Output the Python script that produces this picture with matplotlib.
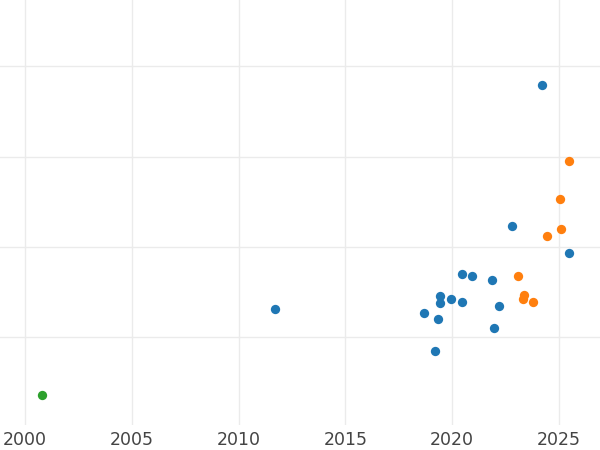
import matplotlib
matplotlib.use("Agg")
import matplotlib.pyplot as plt

# release year vs. score (y units are arbitrary, labels not shown in the reference)
blue_x = [2024.20, 2022.78, 2025.48, 2011.70, 2020.47, 2020.94, 2021.86, 2019.44,
          2019.42, 2019.95, 2020.47, 2018.69, 2019.33, 2022.20, 2021.95, 2019.20]
blue_y = [3.79, 2.23, 1.93, 1.31, 1.70, 1.68, 1.64, 1.46,
          1.38, 1.43, 1.39, 1.27, 1.20, 1.35, 1.10, 0.85]

orange_x = [2025.45, 2025.04, 2025.08, 2024.45, 2023.06, 2023.36, 2023.30, 2023.78]
orange_y = [2.95, 2.53, 2.20, 2.12, 1.68, 1.47, 1.43, 1.39]

green_x = [2000.80]
green_y = [0.36]

xticks = [2000, 2005, 2010, 2015, 2020, 2025]
yticks = [1, 2, 3, 4]

fig = plt.figure(figsize=(6, 4.5), dpi=100)
ax = fig.add_axes([0, 25 / 450, 1, 1 - 25 / 450])

ax.scatter(blue_x, blue_y, s=45, color="#1f77b4", zorder=3, linewidths=0)
ax.scatter(orange_x, orange_y, s=45, color="#ff7f0e", zorder=3, linewidths=0)
ax.scatter(green_x, green_y, s=45, color="#2ca02c", zorder=3, linewidths=0)

ax.set_xlim(1998.82, 2026.92)
ax.set_ylim(0.03, 4.734)
ax.set_xticks(xticks)
ax.set_yticks(yticks)
ax.set_yticklabels([])
ax.grid(True, color="#ebebeb", linewidth=1.0)
ax.set_axisbelow(True)
for s in ax.spines.values():
    s.set_visible(False)
ax.tick_params(axis="both", length=0)
ax.tick_params(axis="x", labelsize=12.5, labelcolor="#444444", pad=4)

fig.savefig("out.png", dpi=100)
